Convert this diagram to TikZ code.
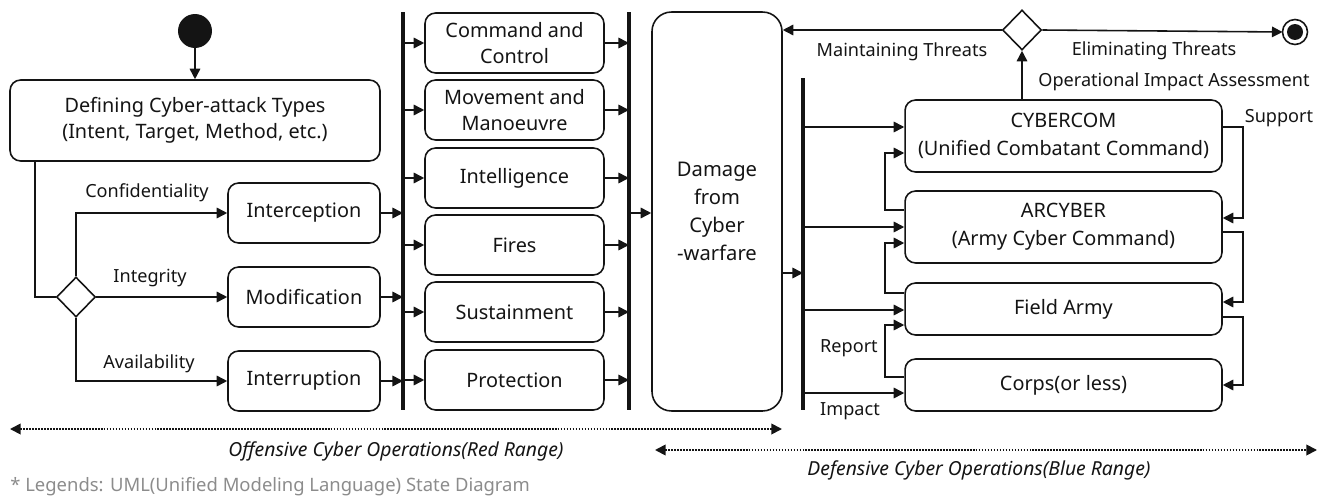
\documentclass[tikz,border=0pt]{standalone}
\usepackage{fontspec}
\setmainfont{Noto Sans}
\usetikzlibrary{arrows.meta,shapes.geometric}

\tikzset{
  state/.style={draw, rounded corners=6pt, line width=0.9pt, align=center,
    inner sep=1pt, font=\fontsize{11.3}{15}\selectfont},
  choice/.style={draw, diamond, line width=0.9pt, minimum width=0.78cm,
    minimum height=0.8cm, inner sep=0pt},
  bar/.style={line width=2.4pt},
  arr/.style={-{Triangle[length=6pt,width=6pt]}, line width=0.9pt},
  lbl/.style={inner sep=0pt, font=\fontsize{10.3}{12}\selectfont},
  opspan/.style={{Triangle[length=6pt,width=6pt]}-{Triangle[length=6pt,width=6pt]},
    line width=1pt, dash pattern=on 1pt off 0.7pt},
}

\begin{document}
\begin{tikzpicture}
  [x=0.02cm,y=-0.02cm,color={black!92}]
  \useasboundingbox (0,0) rectangle (1319,497);

  % offensive side
  \fill (195,31) circle[radius=0.34cm];
  \coordinate (start) at (195,48);
  \node[state, minimum width=7.4cm, minimum height=1.62cm] (def) at (195,120.5)
    {Defining Cyber-attack Types\\(Intent, Target, Method, etc.)};
  \node[choice] (dec1) at (76,297) {};
  \node[state, minimum width=3.04cm, minimum height=1.2cm] (icpt) at (304,213) {Interception};
  \node[state, minimum width=3.04cm, minimum height=1.2cm] (modi) at (304,297) {Modification};
  \node[state, minimum width=3.04cm, minimum height=1.2cm] (intr) at (304,381) {Interruption};

  \node[lbl] at (147,193) {Confidentiality};
  \node[lbl] at (150,278) {Integrity};
  \node[lbl] at (149,364) {Availability};

  \draw[arr] (start) -- (def);
  \draw[line width=0.9pt] (def.south -| 35,0) |- (dec1.west);
  \draw[arr] (dec1.north) |- (icpt.west);
  \draw[arr] (dec1.east) -- (modi.west);
  \draw[arr] (dec1.south) |- (intr.west);

  % bars
  \coordinate (b1top) at (403,12);
  \coordinate (b1bot) at (403,410);
  \coordinate (b2top) at (629,12);
  \coordinate (b2bot) at (629,410);
  \coordinate (b3top) at (803,78);
  \coordinate (b3bot) at (803,410);
  \draw[bar] (b1top) -- (b1bot);
  \draw[bar] (b2top) -- (b2bot);
  \draw[bar] (b3top) -- (b3bot);

  \foreach \n in {icpt,modi,intr}
    \draw[arr] (\n.east) -- (\n.east -| b1top);

  % warfighting functions
  \foreach \n/\y/\t in {cc/43/{Command and\\Control}, mm/110/{Movement and\\Manoeuvre},
      intl/178/Intelligence, fire/245/Fires, sust/312/Sustainment, prot/380/Protection}
  {
    \node[state, minimum width=3.58cm, minimum height=1.2cm] (\n) at (514.5,\y) {\t};
    \draw[arr] (b1top |- \n.west) -- (\n.west);
    \draw[arr] (\n.east) -- (\n.east -| b2top);
  }

  \node[state, rounded corners=11pt, minimum width=2.6cm, minimum height=7.98cm,
    font=\fontsize{11.5}{15.8}\selectfont] (dmg) at (717,211.5) {Damage\\from\\Cyber\\-warfare};
  \draw[arr] (b2top |- 0,213) -- (dmg.west |- 0,213);
  \draw[arr] (dmg.east |- 0,273) -- (b3top |- 0,273);

  % defensive side
  \node[choice] (dec2) at (1022,30) {};
  \draw[line width=0.9pt] (1295,32) circle[radius=0.25cm];
  \fill (1295,32) circle[radius=0.16cm];
  \coordinate (fin) at (1282.5,32);
  \draw[arr] (dec2.west) -- (dmg.east |- dec2.west);
  \draw[arr] (dec2.east) -- (fin);

  \node[state, minimum width=6.34cm, minimum height=1.44cm, font=\fontsize{11.3}{16}\selectfont]
    (cyber) at (1063.5,136) {CYBERCOM\\(Unified Combatant Command)};
  \node[state, minimum width=6.34cm, minimum height=1.44cm, font=\fontsize{11.3}{16}\selectfont]
    (arc) at (1063.5,227) {ARCYBER\\(Army Cyber Command)};
  \node[state, minimum width=6.34cm, minimum height=1.04cm] (field) at (1063.5,309) {Field Army};
  \node[state, minimum width=6.34cm, minimum height=1.04cm] (corps) at (1063.5,385) {Corps(or less)};

  \draw[arr] (cyber.north -| dec2.south) -- (dec2.south);

  \node[lbl] at (902,52) {Maintaining Threats};
  \node[lbl] at (1154,51) {Eliminating Threats};
  \node[lbl] at (1174,82) {Operational Impact Assessment};
  \node[lbl] at (1279,118) {Support};
  \node[lbl] at (849,348) {Report};
  \node[lbl] at (850,411) {Impact};

  \coordinate (sup) at (1243,0);
  \coordinate (rep) at (885,0);
  \foreach \a/\ya/\b/\yb in {cyber/127/arc/218, arc/232/field/302, field/317/corps/385}
    \draw[arr] (\a.east |- 0,\ya) -| (sup |- 0,\yb) -- (\b.east |- 0,\yb);
  \foreach \a/\ya/\b/\yb in {arc/210/cyber/153, field/293/arc/243, corps/377/field/325}
    \draw[arr] (\a.west |- 0,\ya) -| (rep |- 0,\yb) -- (\b.west |- 0,\yb);
  \foreach \b/\y in {cyber/127, arc/227, field/310, corps/393}
    \draw[arr] (b3top |- 0,\y) -- (\b.west |- 0,\y);

  % ranges
  \coordinate (offL) at (10,429);
  \coordinate (offR) at (782,429);
  \coordinate (defL) at (655,450);
  \coordinate (defR) at (1317,450);
  \draw[opspan] (offL) -- (offR);
  \draw[opspan] (defL) -- (defR);
  \node[lbl, font=\fontsize{11}{12}\selectfont\itshape] at (396,451)
    {Offensive Cyber Operations(Red Range)};
  \node[lbl, font=\fontsize{11}{12}\selectfont\itshape] at (979,470)
    {Defensive Cyber Operations(Blue Range)};
  \node[lbl, anchor=west, text=black!45, font=\fontsize{10.5}{12}\selectfont] at (10,487)
    {* Legends: UML(Unified Modeling Language) State Diagram};

\end{tikzpicture}
\end{document}
